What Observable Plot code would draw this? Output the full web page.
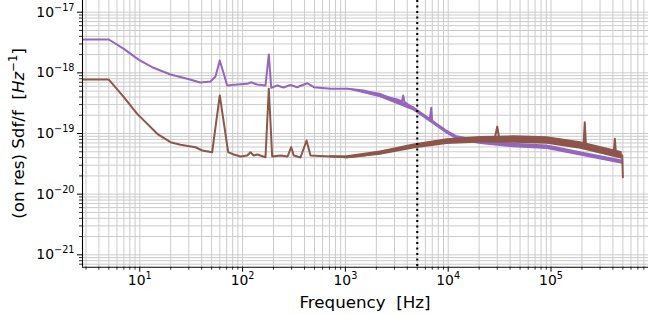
<!DOCTYPE html>
<html><head><meta charset="utf-8">
<script src="https://cdn.jsdelivr.net/npm/d3@7"></script>
<script src="https://cdn.jsdelivr.net/npm/@observablehq/plot@0.6"></script>
<style>html,body{margin:0;padding:0;background:#fff}#chart svg{display:block}</style>
</head><body><div id="chart"></div>
<script>
// ---- data ----
const purpleFreq = [2.5, 5.0, 7.0, 9.8, 13.2, 19.9, 28.9, 38.9, 48.7, 54.5, 60, 65.6, 70.8, 88.5, 111, 121, 139, 167, 180, 190, 217, 250, 292, 340, 425, 493, 717, 1040, 1510, 1890, 2190, 3190, 3550, 3650, 3750, 4630, 6600, 6840, 7000, 9780, 12200, 20600, 43500, 91900, 193600, 408000, 493000];
const purpleVal = [3.55e-18, 3.55e-18, 2.49e-18, 1.64e-18, 1.24e-18, 9.4e-19, 7.98e-19, 6.93e-19, 7.2e-19, 8.7e-19, 1.6e-18, 9.64e-19, 6.18e-19, 6.42e-19, 6.6e-19, 7.0e-19, 6.42e-19, 6.18e-19, 2.01e-18, 5.67e-19, 6.18e-19, 5.73e-19, 6.3e-19, 5.8e-19, 6.75e-19, 5.8e-19, 5.45e-19, 5.45e-19, 5.12e-19, 4.62e-19, 4.23e-19, 3.64e-19, 3.37e-19, 4.23e-19, 3.32e-19, 2.55e-19, 1.66e-19, 2.65e-19, 1.58e-19, 1.05e-19, 8.49e-20, 7.19e-20, 6.34e-20, 5.94e-20, 4.62e-20, 3.59e-20, 3.36e-20];

const brownFreq = [2.5, 5.0, 7.0, 9.44, 14.8, 19.9, 24.9, 34.8, 40.5, 50.6, 60, 72.4, 82, 95.4, 111, 119.5, 128, 139, 167, 180, 194, 234, 274, 297, 315, 366, 419, 458, 717, 1040, 1510, 2190, 3190, 4630, 6720, 9780, 14200, 20600, 28200, 30000, 31500, 43500, 91900, 144000, 194000, 207000, 213000, 219000, 281000, 406000, 418000, 429000, 493000, 500000];
const brownVal = [7.76e-19, 7.76e-19, 3.97e-19, 2.11e-19, 9.89e-20, 7.19e-20, 6.52e-20, 5.94e-20, 5.25e-20, 4.92e-20, 4.24e-19, 4.92e-20, 4.51e-20, 4.18e-20, 4.34e-20, 4.92e-20, 4.34e-20, 4.51e-20, 4.07e-20, 5.46e-19, 4.18e-20, 4.34e-20, 4.18e-20, 5.94e-20, 4.34e-20, 4.02e-20, 7.67e-20, 4.34e-20, 4.18e-20, 4.07e-20, 4.34e-20, 4.76e-20, 5.38e-20, 6.11e-20, 6.77e-20, 7.38e-20, 7.67e-20, 7.87e-20, 7.9e-20, 1.30e-19, 7.9e-20, 7.96e-20, 7.67e-20, 7.19e-20, 6.34e-20, 6.2e-20, 1.53e-19, 6.0e-20, 5.25e-20, 4.62e-20, 8.18e-20, 4.5e-20, 4.34e-20, 1.90e-20];

// noise envelopes of the high-frequency part
const purpleBandFreq = [1040, 2190, 4630, 9780, 12200, 20600, 43500, 91900, 194000, 493000];
const purpleBandLo = [5.3e-19, 3.9e-19, 2.36e-19, 9.7e-20, 7.8e-20, 6.6e-20, 5.8e-20, 5.45e-20, 4.25e-20, 3.1e-20];
const purpleBandHi = [5.6e-19, 4.6e-19, 2.76e-19, 1.13e-19, 9.2e-20, 7.85e-20, 6.9e-20, 6.45e-20, 5.0e-20, 3.65e-20];

const brownBandFreq = [700, 1040, 2190, 4630, 9780, 20600, 43500, 91900, 194000, 493000];
const brownBandLo = [3.98e-20, 3.84e-20, 4.4e-20, 5.55e-20, 6.6e-20, 6.95e-20, 6.9e-20, 6.65e-20, 5.5e-20, 3.75e-20];
const brownBandHi = [4.29e-20, 4.31e-20, 5.15e-20, 6.7e-20, 8.2e-20, 8.9e-20, 9.15e-20, 8.85e-20, 7.3e-20, 5.0e-20];

const markerFreq = [5000];

const xMajor = [1e1, 1e2, 1e3, 1e4, 1e5];
const yMajor = [1e-21, 1e-20, 1e-19, 1e-18, 1e-17];
const xDomain = [2.773, 887800];
const yDomain = [6.25e-22, 1.56e-17];

// minor ticks 2..9 per decade
const xMinor = [], yMinor = [];
for (let e = 0; e <= 5; e++) for (let m = 2; m <= 9; m++) { const v = m * Math.pow(10, e); if (v > xDomain[0] && v < xDomain[1]) xMinor.push(v); }
for (let e = -22; e <= -17; e++) for (let m = 2; m <= 9; m++) { const v = m * Math.pow(10, e); if (v > yDomain[0] && v < yDomain[1]) yMinor.push(v); }

const purple = purpleFreq.map((f, i) => ({f, v: purpleVal[i]}));
const brown = brownFreq.map((f, i) => ({f, v: brownVal[i]}));
const purpleBand = purpleBandFreq.map((f, i) => ({f, lo: purpleBandLo[i], hi: purpleBandHi[i]}));
const brownBand = brownBandFreq.map((f, i) => ({f, lo: brownBandLo[i], hi: brownBandHi[i]}));

const W = 648, H = 314, ML = 82, MR = 0, MT = 0, MB = 47.3;
const PURPLE = "#9467bd", BROWN = "#8c564b", GRID = "#cbcbcb";
const fmt = d => "10^" + Math.round(Math.log10(d));
const TF = 13.9;

const svg = Plot.plot({
  width: W, height: H,
  marginLeft: ML, marginRight: MR, marginTop: MT, marginBottom: MB,
  style: {fontFamily: "DejaVu Sans", fontSize: "13.9px", background: "#fff", color: "#000"},
  x: {type: "log", domain: xDomain},
  y: {type: "log", domain: yDomain},
  marks: [
    Plot.gridX(xMinor.concat(xMajor), {stroke: GRID, strokeOpacity: 1, strokeWidth: 1}),
    Plot.gridY(yMinor.concat(yMajor), {stroke: GRID, strokeOpacity: 1, strokeWidth: 1}),
    Plot.areaY(purpleBand, {x: "f", y1: "lo", y2: "hi", fill: PURPLE, clip: true}),
    Plot.line(purple, {x: "f", y: "v", stroke: PURPLE, strokeWidth: 2, clip: true}),
    Plot.areaY(brownBand, {x: "f", y1: "lo", y2: "hi", fill: BROWN, clip: true}),
    Plot.line(brown, {x: "f", y: "v", stroke: BROWN, strokeWidth: 2, clip: true}),
    Plot.ruleX(markerFreq, {stroke: "#000", strokeWidth: 2.1, strokeDasharray: "2.1,3.4"}),
    Plot.ruleX([xDomain[0]], {stroke: "#000", strokeWidth: 1.1}),
    Plot.ruleY([yDomain[0]], {stroke: "#000", strokeWidth: 1.1}),
    Plot.axisX({ticks: xMinor, tickSize: 3, tickFormat: () => "", label: null, strokeWidth: 0.8}),
    Plot.axisY({ticks: yMinor, tickSize: 3, tickFormat: () => "", label: null, strokeWidth: 0.8}),
    Plot.axisX({ticks: xMajor, tickSize: 5, tickPadding: 3, tickFormat: fmt, label: null, strokeWidth: 1, fontSize: TF}),
    Plot.axisY({ticks: yMajor, tickSize: 5, tickPadding: 3, tickFormat: fmt, label: null, strokeWidth: 1, fontSize: TF})
  ]
});

// superscript exponents in tick labels
const NS = "http://www.w3.org/2000/svg";
svg.querySelectorAll('[aria-label="x-axis tick label"] text, [aria-label="y-axis tick label"] text').forEach(t => {
  const s = t.textContent;
  if (!s.includes("^")) return;
  const [base, ex] = s.split("^");
  t.textContent = base;
  const sup = document.createElementNS(NS, "tspan");
  sup.setAttribute("font-size", "9.7px");
  sup.setAttribute("dy", "-6");
  sup.textContent = ex.replace("-", "\u2212");
  t.appendChild(sup);
});

const s = d3.select(svg);
s.append("text")
  .attr("x", (ML + W - MR) / 2).attr("y", 307.5)
  .attr("text-anchor", "middle").attr("font-size", "16.7px").attr("fill", "#000")
  .style("white-space", "pre").text("Frequency  [Hz]");
const yl = s.append("text")
  .attr("transform", `translate(23.5,${(MT + H - MB) / 2}) rotate(-90)`)
  .attr("text-anchor", "middle").attr("font-size", "16.7px").attr("fill", "#000")
  .style("white-space", "pre");
yl.append("tspan").text("(on res) Sdf/f  [");
yl.append("tspan").attr("font-style", "italic").text("Hz");
yl.append("tspan").attr("font-size", "11.7px").attr("dy", "-7").text("\u22121");
yl.append("tspan").attr("dy", "7").text("]");

document.getElementById("chart").appendChild(svg);
</script>
</body></html>
